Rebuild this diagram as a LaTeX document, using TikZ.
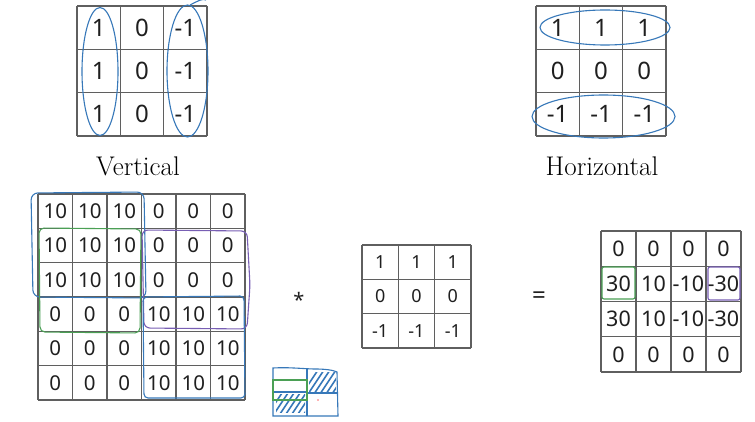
\documentclass[tikz,border=0pt]{standalone}
\usepackage{fontspec}
\newfontfamily\numfont{Noto Sans}
\definecolor{pen}{RGB}{55,120,185}
\definecolor{peng}{RGB}{75,160,85}
\definecolor{penp}{RGB}{120,95,180}
\definecolor{gridc}{RGB}{95,95,95}
\tikzset{
  gline/.style={draw=gridc, line width=1.3pt},
  num/.style={inner sep=0pt, text=black!88, font=\numfont},
  lbl/.style={inner sep=0pt, anchor=base, font=\fontsize{27}{30}\selectfont},
  ink/.style={draw=pen, line width=1.1pt},
  inkg/.style={draw=peng, line width=1.1pt},
  inkp/.style={draw=penp, line width=1.1pt},
  hatch/.style={draw=pen, line width=1.6pt}
}
\begin{document}
\begin{tikzpicture}[x=1pt,y=-1pt]
\useasboundingbox (0,0) rectangle (755,422);
\fill[white] (0,0) rectangle (755,422);

% ---------- Vertical filter ----------
\foreach \i in {0,...,3} {
  \draw[gline] ({77+\i*43.33},6) -- ({77+\i*43.33},136);
  \draw[gline] (77,{6+\i*43.33}) -- (207,{6+\i*43.33});
}
\foreach [count=\r] \row in {{1,0,-1},{1,0,-1},{1,0,-1}} {
  \foreach [count=\c] \v in \row {
    \node[num, font=\numfont\fontsize{24}{26}\selectfont] (v\r\c) at ({77+(\c-0.5)*43.33},{6+(\r-0.5)*43.33}) {\v};
  }
}
\node[lbl] (vlab) at (138,176) {Vertical};
\draw[ink] (100,71.5) ellipse [x radius=18, y radius=64];
\draw[ink] (187.5,71) ellipse [x radius=20.5, y radius=66];
\draw[ink] (190,5) .. controls (198,1) and (203,-2) .. (206,0);

% ---------- Horizontal filter ----------
\foreach \i in {0,...,3} {
  \draw[gline] ({536+\i*43.33},6) -- ({536+\i*43.33},136);
  \draw[gline] (536,{6+\i*43.33}) -- (666,{6+\i*43.33});
}
\foreach [count=\r] \row in {{1,1,1},{0,0,0},{-1,-1,-1}} {
  \foreach [count=\c] \v in \row {
    \node[num, font=\numfont\fontsize{24}{26}\selectfont] (h\r\c) at ({536+(\c-0.5)*43.33},{6+(\r-0.5)*43.33}) {\v};
  }
}
\node[lbl] (hlab) at (602,176) {Horizontal};
\draw[ink] (605,27.5) ellipse [x radius=65, y radius=17.5];
\draw[ink] (603.5,116.5) ellipse [x radius=71.5, y radius=21.5];

% ---------- 6x6 input ----------
\foreach \i in {0,...,6} {
  \draw[gline] ({38+\i*34.5},194) -- ({38+\i*34.5},400);
  \draw[gline] (38,{194+\i*34.33}) -- (245,{194+\i*34.33});
}
\foreach [count=\r] \row in {{10,10,10,0,0,0},{10,10,10,0,0,0},{10,10,10,0,0,0},{0,0,0,10,10,10},{0,0,0,10,10,10},{0,0,0,10,10,10}} {
  \foreach [count=\c] \v in \row {
    \node[num, font=\numfont\fontsize{20.5}{22}\selectfont] (a\r\c) at ({38+(\c-0.5)*34.5},{194+(\r-0.5)*34.33}) {\v};
  }
}
\draw[ink, rounded corners=7pt] (31,193) -- (144,192) -- (146,298) -- (33,297) -- cycle;
\draw[inkg, rounded corners=5pt] (39,228) -- (141,229) -- (140,333) -- (40,332) -- cycle;
\draw[inkp, rounded corners=6pt] (142,230) -- (247,231) -- (250,285) -- (247,329) -- (144,328) -- cycle;
\draw[ink, rounded corners=4pt] (143,297) -- (244,296) -- (245,398) -- (144,398) -- cycle;

% ---------- operators ----------
\node[num, font=\numfont\fontsize{20}{22}\selectfont] (star) at (299,300) {*};
\node[num, font=\numfont\fontsize{24}{26}\selectfont] (eq) at (539,298) {=};

% ---------- 3x3 filter ----------
\foreach \i in {0,...,3} {
  \draw[gline] ({362+\i*36.33},245) -- ({362+\i*36.33},348);
  \draw[gline] (362,{245+\i*34.33}) -- (471,{245+\i*34.33});
}
\foreach [count=\r] \row in {{1,1,1},{0,0,0},{-1,-1,-1}} {
  \foreach [count=\c] \v in \row {
    \node[num, font=\numfont\fontsize{18}{20}\selectfont] (f\r\c) at ({362+(\c-0.5)*36.33},{245+(\r-0.5)*34.33}) {\v};
  }
}

% ---------- 4x4 output ----------
\foreach \i in {0,...,4} {
  \draw[gline] ({601+\i*35},231) -- ({601+\i*35},372);
  \draw[gline] (601,{231+\i*35.25}) -- (741,{231+\i*35.25});
}
\foreach [count=\r] \row in {{0,0,0,0},{30,10,-10,-30},{30,10,-10,-30},{0,0,0,0}} {
  \foreach [count=\c] \v in \row {
    \node[num, font=\numfont\fontsize{21.5}{23}\selectfont] (o\r\c) at ({601+(\c-0.5)*35},{231+(\r-0.5)*35.25}) {\v};
  }
}
\draw[inkg, rounded corners=2pt] (602,267) rectangle (635,299);
\draw[inkp, rounded corners=2pt] (708,267) rectangle (740,300);

% ---------- small sketch ----------
\begin{scope}
  \clip (309,372) rectangle (336,391);
  \foreach \k in {0,...,7} { \draw[hatch] ({302+\k*6},394) -- ({318+\k*6},370); }
\end{scope}
\begin{scope}
  \clip (276,394) rectangle (305,412);
  \foreach \k in {0,...,7} { \draw[hatch] ({268+\k*6},414) -- ({284+\k*6},390); }
\end{scope}
\draw[ink] (273,368) .. controls (290,367) and (305,369) .. (315,369) .. controls (325,369) and (333,370) .. (337,372) -- (338,416) -- (273,416) -- cycle;
\draw[ink] (307,368) -- (307,416);
\draw[ink] (307,393) -- (338,393);
\draw[ink] (273,392) -- (307,392);
\draw[inkg] (273,380) rectangle (307,400);
\fill[red!60] (318,400) circle (0.8pt);
\end{tikzpicture}
\end{document}
